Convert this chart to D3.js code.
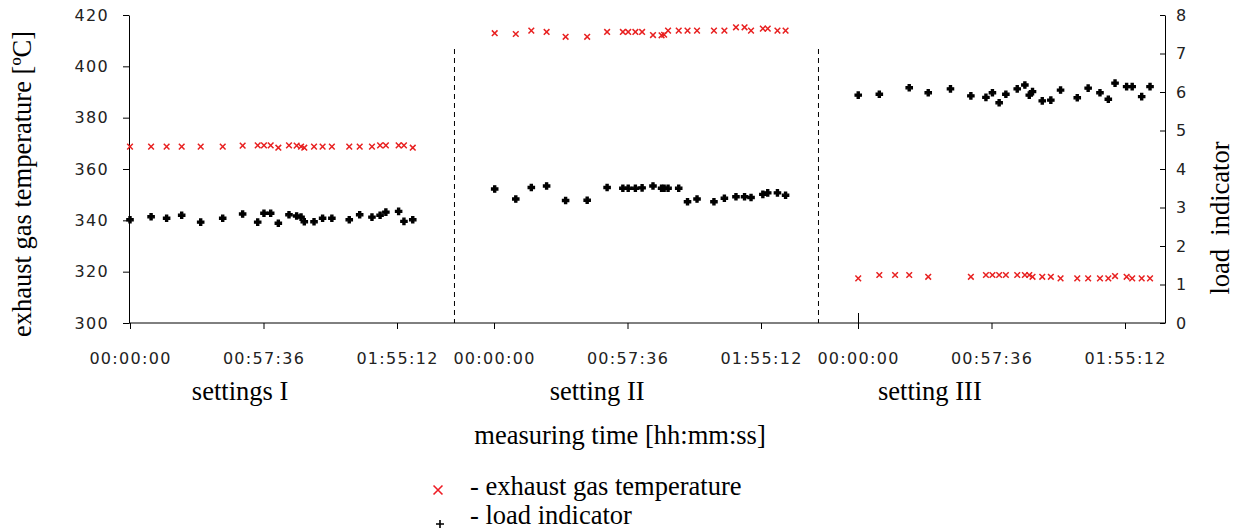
<!DOCTYPE html>
<html>
<head>
<meta charset="utf-8">
<script src="https://cdn.jsdelivr.net/npm/d3@7"></script>
<style>
body { margin: 0; background: #fff; }
.tick text { font-family: "DejaVu Sans", Verdana, sans-serif; font-size: 16px; fill: #222; letter-spacing: 1.3px; }
.axis path, .axis line { stroke: #000; }
.title { font-family: "Liberation Serif", "Times New Roman", serif; font-size: 26.5px; fill: #000; }
</style>
</head>
<body>
<script>

// settings and axis ticks
var panelNames = ["settings I", "setting II", "setting III"];
var tickMinutes = [0, 57.6, 115.2];
var tickLabels = ["00:00:00", "00:57:36", "01:55:12"];
var tempTicks = [300, 320, 340, 360, 380, 400, 420];
var loadTicks = [0, 1, 2, 3, 4, 5, 6, 7, 8];

// setting I  (time in minutes)
var minutes1 = [0, 9.1, 15.8, 22.3, 30.5, 40, 48.6, 55.1, 57.8, 60.7, 64, 68.6, 71.9, 73.8, 75.2, 79.4, 83.1, 87.1, 94.6, 99.1, 104.4, 107.9, 110.4, 115.9, 118.2, 122];
var temp1 = [368.7, 368.7, 368.7, 368.7, 368.7, 368.7, 369.1, 369.2, 369.2, 369.2, 368.3, 369.2, 369.1, 368.7, 368.3, 368.7, 368.7, 368.7, 368.7, 368.7, 368.7, 369.2, 369.2, 369.2, 369.2, 368.3];
var load1 = [2.68, 2.76, 2.72, 2.80, 2.62, 2.72, 2.83, 2.62, 2.85, 2.85, 2.59, 2.81, 2.78, 2.75, 2.63, 2.63, 2.72, 2.72, 2.68, 2.81, 2.75, 2.80, 2.88, 2.90, 2.64, 2.68];

// setting II
var minutes2 = [0.3, 9.4, 16.1, 22.7, 30.9, 40.2, 48.8, 55.6, 57.9, 61.0, 63.9, 68.6, 72.3, 73.4, 75.1, 79.7, 83.5, 87.6, 94.9, 99.4, 104.4, 108.1, 110.9, 116.0, 118.1, 122.3, 125.8];
var temp2 = [412.9, 412.6, 413.9, 413.4, 411.5, 411.5, 413.4, 413.4, 413.4, 413.4, 413.4, 412.2, 412.1, 412.3, 413.9, 413.9, 413.9, 413.9, 413.9, 413.9, 415.2, 415.2, 413.9, 414.7, 414.7, 413.9, 413.9];
var load2 = [3.48, 3.22, 3.52, 3.56, 3.18, 3.19, 3.52, 3.50, 3.50, 3.50, 3.51, 3.56, 3.50, 3.50, 3.50, 3.50, 3.15, 3.22, 3.15, 3.24, 3.28, 3.28, 3.26, 3.34, 3.38, 3.38, 3.32];

// setting III  (null = no reading)
var minutes3 = [0.1, 9.2, 16, 22.1, 30.3, 39.9, 48.7, 55.2, 58.0, 60.9, 63.8, 68.7, 72.0, 73.9, 75.3, 79.5, 83.2, 87.4, 94.6, 99.3, 104.4, 108.0, 110.9, 115.9, 118.3, 122.4, 126.0];
var temp3 = [317.4, 318.7, 318.7, 318.7, 318.0, null, 318.0, 318.7, 318.7, 318.7, 318.7, 318.7, 318.7, 318.7, 318.0, 318.0, 318.0, 317.4, 317.4, 317.4, 317.4, 317.4, 318.3, 318.0, 317.4, 317.4, 317.4];
var load3 = [5.92, 5.94, null, 6.11, 5.98, 6.08, 5.90, 5.86, 5.98, 5.72, 5.94, 6.08, 6.18, 5.92, 6.01, 5.77, 5.79, 6.05, 5.85, 6.10, 5.98, 5.81, 6.23, 6.14, 6.14, 5.88, 6.14];

var panels = [
  {min: minutes1, temp: temp1, load: load1},
  {min: minutes2, temp: temp2, load: load2},
  {min: minutes3, temp: temp3, load: load3}
];

var W = 1240, H = 532;
var plotLeft = 129, plotRight = 1165, plotTop = 15, plotBottom = 323;
var nameAt = [47.5, 44.5, 31];   // where each setting name sits, in panel minutes

var svg = d3.select("body").append("svg").attr("width", W).attr("height", H);

var yTemp = d3.scaleLinear().domain([300, 420]).range([plotBottom, plotTop]);
var yLoad = d3.scaleLinear().domain([0, 8]).range([plotBottom, plotTop]);
var xPanel = d3.scaleLinear().domain([0, 2]).range([130, 858]);
var xTime = d3.scaleLinear().domain([0, 115.2]).range([0, 267]);

// markers
var xMark = {draw: function(c, s) { var r = Math.sqrt(s) / 2; c.moveTo(-r, -r); c.lineTo(r, r); c.moveTo(r, -r); c.lineTo(-r, r); }};
var plusMark = {draw: function(c, s) { var r = Math.sqrt(s) / 2; c.moveTo(-r, 0); c.lineTo(r, 0); c.moveTo(0, -r); c.lineTo(0, r); }};

// left axis
svg.append("g").attr("class", "axis")
  .attr("transform", "translate(" + plotLeft + ",0)")
  .call(d3.axisLeft(yTemp).tickValues(tempTicks).tickSize(6).tickSizeOuter(0).tickPadding(14));

// right axis
svg.append("g").attr("class", "axis")
  .attr("transform", "translate(" + plotRight + ",0)")
  .call(d3.axisRight(yLoad).tickValues(loadTicks).tickSizeInner(-5).tickSizeOuter(0).tickPadding(11));

// bottom line
svg.append("line").attr("x1", plotLeft).attr("x2", plotRight).attr("y1", plotBottom).attr("y2", plotBottom)
  .attr("stroke", "#000");

panels.forEach(function(p, i) {
  var g = svg.append("g").attr("transform", "translate(" + xPanel(i) + ",0)");

  var ax = g.append("g").attr("class", "axis")
    .attr("transform", "translate(0," + plotBottom + ")")
    .call(d3.axisBottom(xTime).tickValues(tickMinutes)
      .tickFormat(function(d, k) { return tickLabels[k]; })
      .tickSize(6).tickPadding(24));
  ax.select(".domain").remove();
  if (i == 2) ax.select(".tick line").attr("y1", -10);

  if (i < 2) {
    g.append("line")
      .attr("x1", xTime(140)).attr("x2", xTime(140))
      .attr("y1", 49).attr("y2", plotBottom)
      .attr("stroke", "#000").attr("stroke-dasharray", "5,4");
  }

  var idx = d3.range(p.min.length);

  g.selectAll(".temp").data(idx.filter(function(k) { return p.temp[k] != null; }))
    .enter().append("path").attr("class", "temp")
    .attr("d", d3.symbol().type(xMark).size(32))
    .attr("transform", function(k) { return "translate(" + xTime(p.min[k]) + "," + yTemp(p.temp[k]) + ")"; })
    .attr("fill", "none").attr("stroke", "#e82020").attr("stroke-width", 1.5);

  g.selectAll(".load").data(idx.filter(function(k) { return p.load[k] != null; }))
    .enter().append("path").attr("class", "load")
    .attr("d", d3.symbol().type(d3.symbolCross).size(22))
    .attr("transform", function(k) { return "translate(" + xTime(p.min[k]) + "," + yLoad(p.load[k]) + ")"; })
    .attr("fill", "#000").attr("stroke", "#000").attr("stroke-width", 1.3);

  g.append("text").attr("class", "title")
    .attr("x", xTime(nameAt[i])).attr("y", 400)
    .attr("text-anchor", "middle").text(panelNames[i]);
});

// axis titles
svg.append("text").attr("class", "title")
  .attr("transform", "translate(31,184) rotate(-90)")
  .attr("text-anchor", "middle").text("exhaust gas temperature [ºC]");

svg.append("text").attr("class", "title")
  .attr("transform", "translate(1229,218) rotate(-90)")
  .attr("text-anchor", "middle")
  .style("white-space", "pre").text("load  indicator");

svg.append("text").attr("class", "title")
  .attr("x", 620).attr("y", 444)
  .attr("text-anchor", "middle").text("measuring time [hh:mm:ss]");

// legend
svg.append("path").attr("d", d3.symbol().type(xMark).size(80))
  .attr("transform", "translate(438,490)")
  .attr("fill", "none").attr("stroke", "#ee1c24").attr("stroke-width", 1.6);
svg.append("text").attr("class", "title").attr("x", 470).attr("y", 495).text("- exhaust gas temperature");

svg.append("path").attr("d", d3.symbol().type(plusMark).size(64))
  .attr("transform", "translate(440,524)")
  .attr("fill", "none").attr("stroke", "#000").attr("stroke-width", 1.6);
svg.append("text").attr("class", "title").attr("x", 470).attr("y", 524).text("- load indicator");

</script>
</body>
</html>
